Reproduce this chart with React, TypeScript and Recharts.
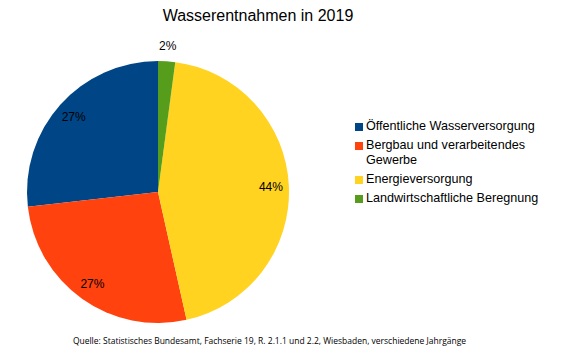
import React from "react";
import { PieChart, Pie, Cell, Legend } from "recharts";

const categories = [
  "Öffentliche Wasserversorgung",
  "Bergbau und verarbeitendes Gewerbe",
  "Energieversorgung",
  "Landwirtschaftliche Beregnung",
];
const shares = [26.8, 26.7, 44.4, 2.1];
const colors = ["#004586", "#ff420e", "#ffd320", "#579d1c"];
const title = "Wasserentnahmen in 2019";
const source =
  "Quelle: Statistisches Bundesamt, Fachserie 19, R. 2.1.1 und 2.2, Wiesbaden, verschiedene Jahrgänge";

const data = categories.map((name, i) => ({ name, value: shares[i] }));
const total = shares.reduce((a, b) => a + b, 0);

const RAD = Math.PI / 180;
const renderLabel = (props: any) => {
  const { cx, cy, midAngle, outerRadius, value } = props;
  const pct = value / total;
  const r = pct < 0.05 ? outerRadius + 15 : outerRadius - 18;
  const x = cx + r * Math.cos(-midAngle * RAD);
  const y = cy + r * Math.sin(-midAngle * RAD);
  return (
    <text
      x={x}
      y={y}
      textAnchor="middle"
      dominantBaseline="central"
      fontFamily="Liberation Sans, Arial, sans-serif"
      fontSize={12}
      fill="#000"
    >
      {Math.round(pct * 100) + "%"}
    </text>
  );
};

const LegendContent = () => (
  <div style={{ width: 190, fontFamily: "Liberation Sans, Arial, sans-serif", fontSize: 12.6, color: "#000" }}>
    {data.map((d, i) => (
      <div key={d.name} style={{ display: "flex", alignItems: "flex-start", marginBottom: 4, lineHeight: "15px" }}>
        <span
          style={{
            display: "inline-block",
            width: 8,
            height: 8,
            background: colors[i],
            marginTop: 4,
            marginRight: 3,
            flexShrink: 0,
          }}
        />
        <span>{d.name}</span>
      </div>
    ))}
  </div>
);

export default function App() {
  return (
    <div style={{ position: "absolute", left: 0, top: 0, width: 564, height: 363, background: "#fff" }}>
      <div
        style={{
          position: "absolute",
          left: 0,
          width: 516,
          top: 7,
          textAlign: "center",
          fontFamily: "Liberation Sans, Arial, sans-serif",
          fontSize: 16,
          color: "#000",
        }}
      >
        {title}
      </div>
      <PieChart width={564} height={363} margin={{ top: 0, right: 0, bottom: 0, left: 0 }}>
        <Pie
          data={data}
          dataKey="value"
          nameKey="name"
          cx={158}
          cy={192}
          outerRadius={131}
          startAngle={90}
          endAngle={450}
          stroke="none"
          label={renderLabel}
          labelLine={false}
          isAnimationActive={false}
        >
          {data.map((d, i) => (
            <Cell key={d.name} fill={colors[i]} />
          ))}
        </Pie>
        <Legend
          layout="vertical"
          verticalAlign="middle"
          align="right"
          content={<LegendContent />}
          wrapperStyle={{ left: 355, top: 119, width: 195 }}
        />
      </PieChart>
      <div
        style={{
          position: "absolute",
          left: 0,
          width: 539,
          top: 335,
          textAlign: "center",
          fontFamily: "Open Sans, sans-serif",
          fontSize: 8.5,
          color: "#000",
        }}
      >
        {source}
      </div>
    </div>
  );
}
